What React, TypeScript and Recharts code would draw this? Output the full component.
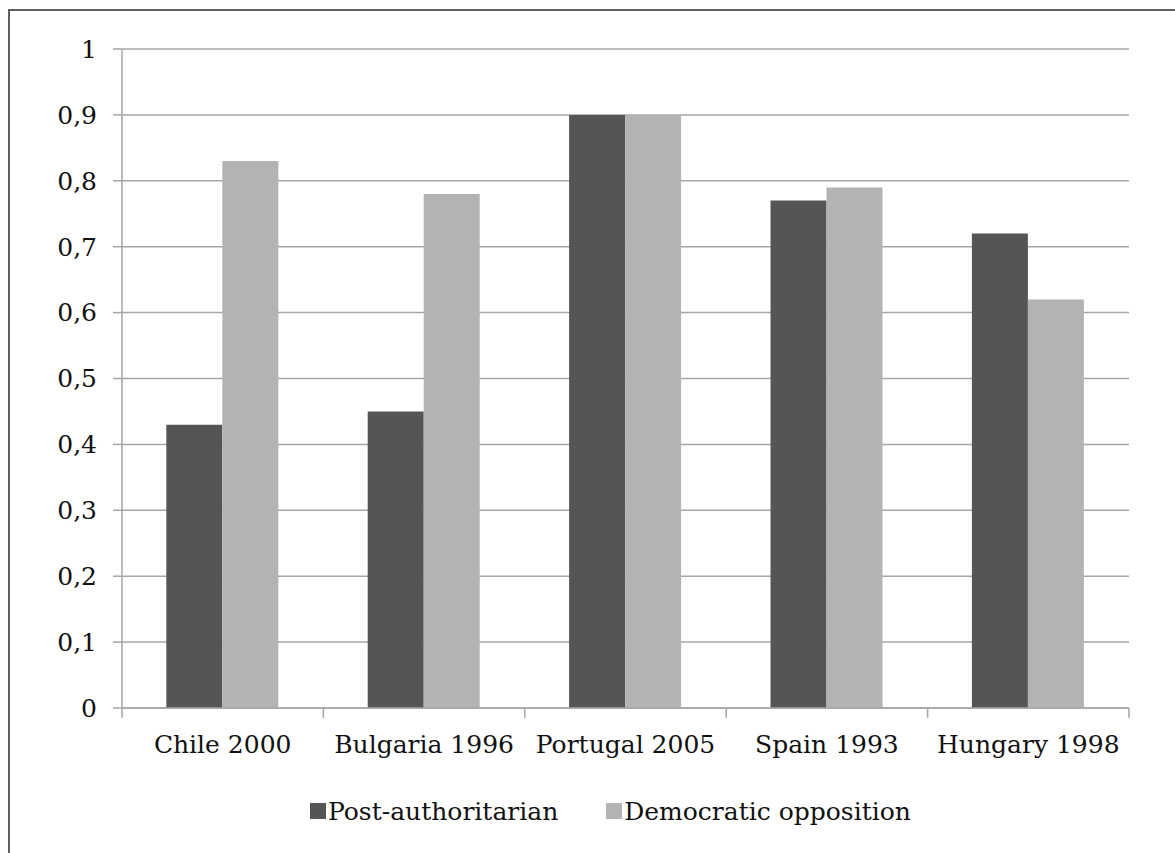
import React from 'react'
import { Bar, BarChart, CartesianGrid, XAxis, YAxis } from 'recharts'

const categories = ['Chile 2000', 'Bulgaria 1996', 'Portugal 2005', 'Spain 1993', 'Hungary 1998']
const postAuthoritarian = [0.43, 0.45, 0.9, 0.77, 0.72]
const democraticOpposition = [0.83, 0.78, 0.9, 0.79, 0.62]
const yTicks = [0, 0.1, 0.2, 0.3, 0.4, 0.5, 0.6, 0.7, 0.8, 0.9, 1]
const seriesNames = ['Post-authoritarian', 'Democratic opposition']

const data = categories.map((name, i) => ({
  name,
  post: postAuthoritarian[i],
  demo: democraticOpposition[i]
}))

const font = '"DejaVu Serif", serif'
const gridColor = '#a6a6a6'
const darkBar = '#555555'
const lightBar = '#b3b3b3'

const chartWidth = 1160
const chartHeight = 835
const margin = { top: 38, right: 41, left: 0, bottom: 78 }
const yAxisWidth = 112
const plotWidth = chartWidth - margin.left - margin.right - yAxisWidth
const halfBand = plotWidth / categories.length / 2

function CategoryTick(props: any) {
  const { x, y, payload, index } = props
  const last = index === categories.length - 1
  return (
    <g>
      <line x1={x - halfBand} x2={x - halfBand} y1={y} y2={y + 10} stroke={gridColor} strokeWidth={1.5} />
      {last && (
        <line x1={x + halfBand} x2={x + halfBand} y1={y} y2={y + 10} stroke={gridColor} strokeWidth={1.5} />
      )}
      <text x={x} y={y + 45} textAnchor="middle" fill="#111" fontFamily={font} fontSize={25}>
        {payload.value}
      </text>
    </g>
  )
}

function LegendRow() {
  const colors = [darkBar, lightBar]
  return (
    <div
      style={{
        position: 'absolute',
        left: 300,
        top: 788,
        display: 'flex',
        alignItems: 'flex-start',
        fontFamily: font,
        fontSize: 25,
        lineHeight: '25px',
        color: '#111',
        whiteSpace: 'nowrap'
      }}
    >
      {seriesNames.map((name, i) => (
        <div key={name} style={{ display: 'flex', alignItems: 'flex-start', marginRight: i === 0 ? 48 : 0 }}>
          <span style={{ width: 16, height: 16, marginTop: 4, marginRight: 2, background: colors[i] }} />
          <span>{name}</span>
        </div>
      ))}
    </div>
  )
}

export default function App() {
  return (
    <div
      style={{
        position: 'fixed',
        left: 8,
        top: 9,
        width: 1167,
        height: 850,
        boxSizing: 'border-box',
        borderTop: '2px solid #5f5f5f',
        borderLeft: '2px solid #5f5f5f',
        background: '#fff'
      }}
    >
      <BarChart
        width={chartWidth}
        height={chartHeight}
        data={data}
        margin={margin}
        barCategoryGap="22%"
        barGap={0}
      >
        <CartesianGrid vertical={false} stroke={gridColor} strokeWidth={1.5} />
        <XAxis
          dataKey="name"
          interval={0}
          height={60}
          tickLine={false}
          tickSize={0}
          tickMargin={0}
          axisLine={{ stroke: gridColor, strokeWidth: 1.5 }}
          tick={<CategoryTick />}
        />
        <YAxis
          width={yAxisWidth}
          domain={[0, 1]}
          ticks={yTicks}
          interval={0}
          tickSize={9}
          tickMargin={16}
          tickLine={{ stroke: gridColor, strokeWidth: 1.5 }}
          axisLine={{ stroke: gridColor, strokeWidth: 1.5 }}
          tick={{ fill: '#111', fontFamily: font, fontSize: 25 }}
          tickFormatter={(v: number) => String(v).replace('.', ',')}
        />
        <Bar dataKey="post" name={seriesNames[0]} fill={darkBar} isAnimationActive={false} />
        <Bar dataKey="demo" name={seriesNames[1]} fill={lightBar} isAnimationActive={false} />
      </BarChart>
      <LegendRow />
    </div>
  )
}
